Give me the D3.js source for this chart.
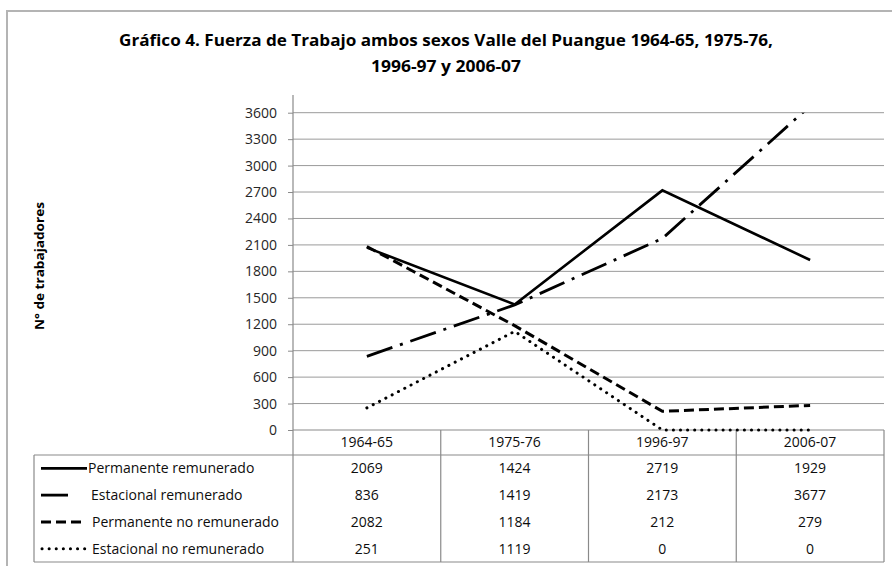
<!DOCTYPE html>
<html>
<head>
<meta charset="utf-8">
<script src="https://cdn.jsdelivr.net/npm/d3@7"></script>
<style>
  html, body { margin: 0; padding: 0; background: #fff; }
  svg { display: block; font-family: "Open Sans", "Noto Sans", sans-serif; }
</style>
</head>
<body>
<svg id="chart" width="892" height="566"></svg>
<script>
// ---- data ----
const categories = ["1964-65", "1975-76", "1996-97", "2006-07"];
const seriesNames = ["Permanente remunerado", "Estacional remunerado", "Permanente no remunerado", "Estacional no remunerado"];
const permanenteRemunerado = [2069, 1424, 2719, 1929];
const estacionalRemunerado = [836, 1419, 2173, 3677];
const permanenteNoRemunerado = [2082, 1184, 212, 279];
const estacionalNoRemunerado = [251, 1119, 0, 0];
const yTickValues = [0, 300, 600, 900, 1200, 1500, 1800, 2100, 2400, 2700, 3000, 3300, 3600];
const titleLines = ["Gráfico 4. Fuerza de Trabajo ambos sexos Valle del Puangue 1964-65, 1975-76,", "1996-97 y 2006-07"];
const yAxisTitle = "N° de trabajadores";

const seriesValues = [permanenteRemunerado, estacionalRemunerado, permanenteNoRemunerado, estacionalNoRemunerado];
const seriesStyles = [
  { dash: null, width: 2.6, cap: "butt" },
  { dash: "27,8,3,8", width: 2.8, cap: "butt" },
  { dash: "10,5", width: 3, cap: "butt" },
  { dash: "0.1,7", width: 3, cap: "round" }
];
const series = seriesNames.map((n, i) => ({ name: n, values: seriesValues[i], style: seriesStyles[i] }));

// ---- layout ----
const svg = d3.select("#chart");
const plot = { left: 293, right: 884, top: 112.7, bottom: 430 };
const table = { left: 34, headerBottom: 455, bottom: 562, rowH: 26.75 };
const textCol = "#0d0d0d";

const x = d3.scaleBand().domain(categories).range([plot.left, plot.right]).padding(0);
const y = d3.scaleLinear().domain([0, 3600]).range([plot.bottom, plot.top]);

// chart border
svg.append("rect").attr("x", 7).attr("y", 11).attr("width", 1000).attr("height", 1000)
  .attr("fill", "none").attr("stroke", "#b4b4b4").attr("stroke-width", 2);

// title
svg.append("text").attr("x", 446).attr("y", 46).attr("text-anchor", "middle")
  .attr("font-weight", "bold").attr("font-size", 15.5).attr("fill", "#000")
  .attr("textLength", 654).attr("lengthAdjust", "spacingAndGlyphs")
  .text(titleLines[0]);
svg.append("text").attr("x", 446).attr("y", 72).attr("text-anchor", "middle")
  .attr("font-weight", "bold").attr("font-size", 15.5).attr("fill", "#000")
  .attr("textLength", 150).attr("lengthAdjust", "spacingAndGlyphs")
  .text(titleLines[1]);

// y-axis title
svg.append("text").attr("transform", "translate(44,266) rotate(-90)")
  .attr("text-anchor", "middle").attr("font-weight", "bold").attr("font-size", 12)
  .attr("fill", "#000").attr("textLength", 128).attr("lengthAdjust", "spacingAndGlyphs")
  .text(yAxisTitle);

// gridlines
svg.append("g").selectAll("line").data(yTickValues.filter(v => v > 0)).join("line")
  .attr("x1", plot.left).attr("x2", plot.right)
  .attr("y1", d => y(d)).attr("y2", d => y(d))
  .attr("stroke", "#9a9a9a").attr("stroke-width", 1);

// y axis
const yAxis = svg.append("g").attr("transform", `translate(${plot.left},0)`)
  .call(d3.axisLeft(y).tickValues(yTickValues).tickSize(5).tickPadding(11).tickFormat(d3.format("d")));
yAxis.select(".domain").remove();
yAxis.selectAll(".tick line").attr("stroke", "#8a8a8a");
yAxis.selectAll(".tick text").attr("font-size", 14).attr("fill", "#262626")
  .attr("font-family", "'Open Sans', sans-serif");
svg.append("line").attr("x1", plot.left).attr("x2", plot.left).attr("y1", 95).attr("y2", table.bottom)
  .attr("stroke", "#8a8a8a").attr("stroke-width", 1.2);

// ---- table grid ----
const g = svg.append("g").attr("stroke", "#8a8a8a").attr("stroke-width", 1.2);
g.append("line").attr("x1", plot.left).attr("x2", plot.right).attr("y1", plot.bottom).attr("y2", plot.bottom);
g.append("line").attr("x1", table.left).attr("x2", plot.right).attr("y1", table.headerBottom).attr("y2", table.headerBottom);
g.append("line").attr("x1", table.left).attr("x2", plot.right).attr("y1", table.bottom).attr("y2", table.bottom);
g.append("line").attr("x1", table.left).attr("x2", table.left).attr("y1", table.headerBottom).attr("y2", table.bottom);
g.selectAll("line.col").data(categories).join("line").attr("class", "col")
  .attr("x1", d => x(d) + x.bandwidth()).attr("x2", d => x(d) + x.bandwidth())
  .attr("y1", plot.bottom).attr("y2", table.bottom);

// header labels
svg.append("g").selectAll("text").data(categories).join("text")
  .attr("x", d => x(d) + x.bandwidth() / 2).attr("y", 447).attr("text-anchor", "middle")
  .attr("font-size", 14).attr("fill", textCol).text(d => d);

// rows
const rowY = i => table.headerBottom + table.rowH * (i + 0.5);
series.forEach((s, i) => {
  const ry = rowY(i);
  svg.append("g").selectAll("text").data(s.values).join("text")
    .attr("x", (d, j) => x(categories[j]) + x.bandwidth() / 2).attr("y", ry + 5)
    .attr("text-anchor", "middle").attr("font-size", 14).attr("fill", textCol).text(d => d);
});

// legend keys
const legendKeys = [
  { x1: 41, x2: 87, tx: 88 },
  { x1: 41, x2: 70, tx: 91 },
  { x1: 41, x2: 84, tx: 92 },
  { x1: 42, x2: 87, tx: 92 }
];
series.forEach((s, i) => {
  const ry = rowY(i);
  const k = legendKeys[i];
  const ln = svg.append("line").attr("x1", k.x1).attr("x2", k.x2).attr("y1", ry).attr("y2", ry)
    .attr("stroke", "#000").attr("stroke-width", s.style.width).attr("stroke-linecap", s.style.cap);
  if (s.style.dash) ln.attr("stroke-dasharray", s.style.dash);
  svg.append("text").attr("x", k.tx).attr("y", ry + 5).attr("font-size", 14).attr("fill", textCol).text(s.name);
});

// ---- lines ----
svg.append("clipPath").attr("id", "plotClip").append("rect")
  .attr("x", plot.left).attr("y", plot.top).attr("width", plot.right - plot.left).attr("height", plot.bottom - plot.top + 3);

const line = d3.line()
  .x((d, j) => x(categories[j]) + x.bandwidth() / 2)
  .y(d => y(d));

const lg = svg.append("g").attr("clip-path", "url(#plotClip)");
series.slice().reverse().forEach(s => {
  const p = lg.append("path").datum(s.values).attr("d", line)
    .attr("fill", "none").attr("stroke", "#000").attr("stroke-width", s.style.width)
    .attr("stroke-linejoin", "miter").attr("stroke-linecap", s.style.cap);
  if (s.style.dash) p.attr("stroke-dasharray", s.style.dash);
});
</script>
</body>
</html>
